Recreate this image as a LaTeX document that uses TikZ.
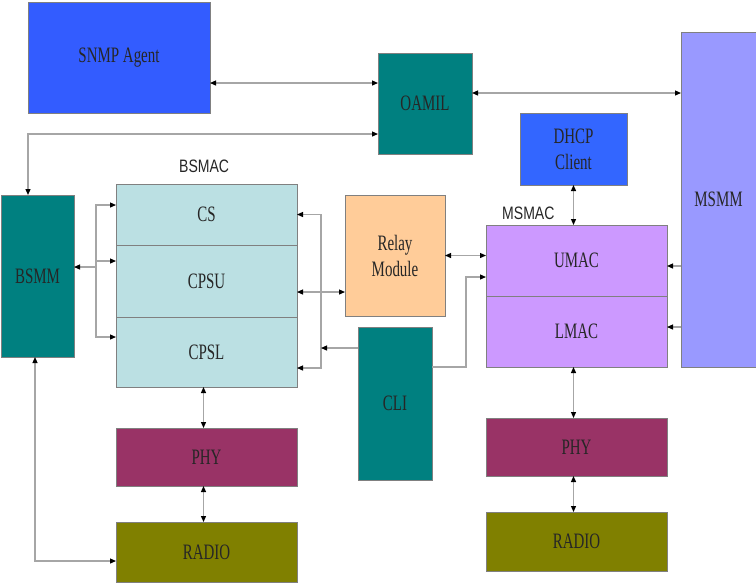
\documentclass[tikz,border=0pt]{standalone}
\usepackage{fontspec}
\newfontfamily\boxfont{Liberation Serif}[FakeStretch=0.68]
\newfontfamily\tagfont{Liberation Sans}[FakeStretch=0.78]
\usetikzlibrary{positioning,calc,arrows.meta}

\definecolor{snmpblue}{HTML}{335CFF}
\definecolor{dhcpblue}{HTML}{3366FF}
\definecolor{tealbox}{HTML}{008080}
\definecolor{msmmblue}{HTML}{9999FF}
\definecolor{macviolet}{HTML}{CC99FF}
\definecolor{bsmaccyan}{HTML}{BBE0E3}
\definecolor{relayorange}{HTML}{FFCC99}
\definecolor{phyplum}{HTML}{993366}
\definecolor{radioolive}{HTML}{808000}
\definecolor{linkgray}{HTML}{A6A6A6}

\tikzset{
    block/.style n args={3}{draw=gray, line width=0.8pt, fill=#1,
        minimum width=#2, minimum height=#3, inner sep=0pt, outer sep=0pt,
        font=\boxfont\fontsize{22}{26}\selectfont, text=black!85, align=center},
    tag/.style={font=\tagfont\fontsize{18}{20}\selectfont, text=black!85, inner sep=0pt},
    link/.style={draw=linkgray, line width=1.2pt},
    uniarrow/.style={link, -{Triangle[length=6pt,width=5pt,black]}},
    biarrow/.style={link, {Triangle[length=6pt,width=5pt,black]}-{Triangle[length=6pt,width=5pt,black]}},
}

\begin{document}
\begin{tikzpicture}[x=1pt, y=-1pt]
    \useasboundingbox (0,0) rectangle (756,582);

    % management blocks
    \node[block={snmpblue}{182pt}{111pt}] (snmp) at (119,57.5) {SNMP Agent};
    \node[block={tealbox}{94pt}{101pt}] (oamil) at (425,103.5) {OAMIL};
    \node[block={msmmblue}{75pt}{335pt}] (msmm) at (718.5,199.5) {MSMM};
    \node[block={dhcpblue}{107pt}{72pt}] (dhcp) at (573.5,149) {DHCP\\Client};
    \node[block={tealbox}{73pt}{162pt}] (bsmm) at (37.5,276) {BSMM};

    % BS side MAC stack
    \node[block={bsmaccyan}{181pt}{61pt}] (cs) at (206.5,214.5) {CS};
    \node[block={bsmaccyan}{181pt}{72pt}, below=0pt of cs] (cpsu) {CPSU};
    \node[block={bsmaccyan}{181pt}{70pt}, below=0pt of cpsu] (cpsl) {CPSL};
    \node[tag, above right=11pt and 63pt of cs.north west] (bsmaclabel) {BSMAC};
    \node[block={phyplum}{181pt}{58pt}] (phyb) at (206.5,457) {PHY};
    \node[block={radioolive}{181pt}{60pt}] (radiob) at (206.5,552) {RADIO};

    % relay and cli
    \node[block={relayorange}{100pt}{121pt}] (relay) at (395,255.5) {Relay\\Module};
    \node[block={tealbox}{74pt}{153pt}] (cli) at (395,403.5) {CLI};

    % MS side MAC stack
    \node[block={macviolet}{181pt}{71pt}] (umac) at (576.5,260.5) {UMAC};
    \node[block={macviolet}{181pt}{71pt}, below=0pt of umac] (lmac) {LMAC};
    \node[tag, above right=5pt and 16pt of umac.north west] (msmaclabel) {MSMAC};
    \node[block={phyplum}{181pt}{58pt}] (phym) at (576.5,447) {PHY};
    \node[block={radioolive}{181pt}{59pt}] (radiom) at (576.5,541.5) {RADIO};

    % connectors
    \draw[biarrow] ($(snmp.east)+(0,25.5)$) coordinate (s1) -- (s1 -| oamil.west);
    \draw[biarrow] ($(oamil.west)+(0,30.5)$) -| ($(bsmm.north west)+(27,0)$);
    \draw[biarrow] ($(oamil.east)+(0,-10.5)$) coordinate (o1) -- (o1 -| msmm.west);
    \draw[biarrow] (dhcp.south) -- (dhcp.south |- umac.north);

    \coordinate (m1) at ($(umac.east)+(0,5.5)$);
    \coordinate (m2) at ($(lmac.east)+(0,-4.5)$);
    \draw[uniarrow] (m1 -| msmm.west) -- (m1);
    \draw[uniarrow] (m2 -| msmm.west) -- (m2);

    \draw[biarrow] ($(cs.west)+(0,-9.5)$) -- ++(-20,0) |- ($(cpsl.west)+(0,-15)$);
    \draw[uniarrow] ($(cpsu.west)+(-20,-20)$) -- ($(cpsu.west)+(0,-20)$);
    \draw[uniarrow] ($(bsmm.east)+(22,-9)$) -- ($(bsmm.east)+(0,-9)$);

    \coordinate (busr) at ($(cs.east)+(24,0)$);
    \draw[biarrow] (cs.east) -- (busr) |- ($(cpsl.east)+(0,16)$);
    \draw[biarrow] ($(cpsu.east)+(0,11)$) coordinate (r1) -- (r1 -| relay.west);
    \draw[uniarrow] ($(cli.west)+(0,-55.5)$) coordinate (c1) -- (c1 -| busr);

    \draw[biarrow] (relay.east) -- (relay.east -| umac.west);
    \draw[uniarrow] ($(cli.east)+(0,-36.5)$) -- ++(34,0) |- ($(umac.west)+(0,16.5)$);

    \draw[biarrow] ($(cpsl.south)+(-3,0)$) coordinate (p1) -- (p1 |- phyb.north);
    \draw[biarrow] ($(phyb.south)+(-3,0)$) coordinate (p2) -- (p2 |- radiob.north);
    \draw[biarrow] ($(lmac.south)+(-3,0)$) coordinate (p3) -- (p3 |- phym.north);
    \draw[biarrow] ($(phym.south)+(-3,0)$) coordinate (p4) -- (p4 |- radiom.north);
    \draw[biarrow] ($(bsmm.south)+(-2.5,0)$) |- ($(radiob.west)+(0,9)$);
\end{tikzpicture}
\end{document}
